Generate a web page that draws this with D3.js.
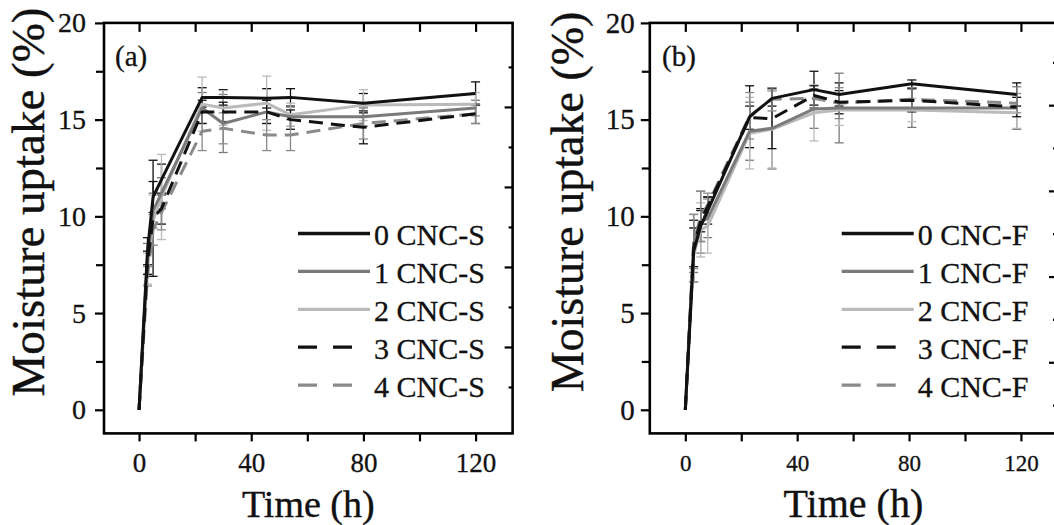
<!DOCTYPE html>
<html><head><meta charset="utf-8">
<script src="https://cdn.jsdelivr.net/npm/d3@7"></script>
<style>
body{margin:0;background:#fff}
svg{display:block;font-family:"Liberation Serif","Times New Roman",serif}
</style></head><body>
<svg id="chart" width="1054" height="525"></svg>
<script>
// Moisture uptake vs time, panels (a) CNC-S and (b) CNC-F

// panel (a)
const timeA = [0, 3, 5, 8, 22.5, 30, 45.5, 54, 80, 120];
const namesA = ["0 CNC-S", "1 CNC-S", "2 CNC-S", "3 CNC-S", "4 CNC-S"];
const uptakeA0 = [0, 8.2, 11.0, 11.9, 16.15, 16.15, 16.1, 16.15, 15.85, 16.35];
const uptakeA1 = [0, 7.8, 10.3, 11.2, 15.6, 14.8, 15.4, 15.15, 15.15, 15.6];
const uptakeA2 = [0, 7.3, 9.8, 11.0, 15.8, 15.6, 15.85, 15.25, 15.75, 15.8];
const uptakeA3 = [0, 7.6, 9.9, 10.4, 15.4, 15.4, 15.4, 15.0, 14.6, 15.3];
const uptakeA4 = [0, 6.9, 9.3, 10.2, 14.4, 14.55, 14.2, 14.2, 14.8, 15.3];
const errA0 = [0, 0.7, 0.8, 0.8, 0.5, 0.4, 0.5, 0.45, 0.5, 0.6];
const errA1 = [0, 0.8, 0.9, 0.8, 0.8, 1.5, 0.6, 0.5, 0.5, 0.4];
const errA2 = [0, 0.8, 1.3, 2.2, 1.4, 0.9, 1.4, 0.6, 0.8, 0.6];
const errA3 = [0, 0.6, 3.0, 0.8, 0.6, 0.5, 0.6, 0.5, 0.85, 0.5];
const errA4 = [0, 0.5, 0.8, 0.9, 1.0, 0.8, 0.8, 0.8, 0.8, 0.5];

// panel (b)
const timeB = [0, 3, 5.5, 8, 23, 31, 46, 55, 81, 118.5];
const namesB = ["0 CNC-F", "1 CNC-F", "2 CNC-F", "3 CNC-F", "4 CNC-F"];
const uptakeB0 = [0, 8.2, 9.5, 10.3, 15.15, 16.1, 16.55, 16.3, 16.85, 16.3];
const uptakeB1 = [0, 8.6, 9.7, 9.9, 14.4, 14.55, 15.55, 15.6, 15.6, 15.6];
const uptakeB2 = [0, 8.0, 9.3, 9.5, 14.3, 14.5, 15.35, 15.5, 15.5, 15.35];
const uptakeB3 = [0, 8.4, 9.8, 10.5, 15.1, 15.05, 16.25, 15.9, 16.0, 15.65];
const uptakeB4 = [0, 8.7, 10.0, 10.6, 15.2, 16.05, 16.1, 15.85, 16.05, 15.85];
const errB0 = [0, 1.6, 0.8, 0.7, 1.6, 0.4, 0.95, 0.6, 0.2, 0.6];
const errB1 = [0, 1.5, 1.6, 1.0, 1.5, 2.1, 1.0, 1.8, 1.0, 1.1];
const errB2 = [0, 1.4, 1.4, 1.4, 1.85, 2.0, 1.45, 0.8, 0.6, 0.8];
const errB3 = [0, 1.0, 0.6, 0.5, 0.6, 1.55, 0.5, 0.6, 0.6, 0.5];
const errB4 = [0, 1.4, 1.3, 0.6, 1.2, 0.6, 0.5, 0.8, 0.6, 0.5];

// ticks
const xMajor = [0, 40, 80, 120];
const xMinor = [20, 60, 100];
const yMajor = [0, 5, 10, 15, 20];
const yMinor = [2.5, 7.5, 12.5, 17.5];
const rMajor = [1, 2, 3, 4];
const rMinor = [0.5, 1.5, 2.5, 3.5, 4.5];

const colors = ["#111", "#7a7a7a", "#bababa", "#111", "#8a8a8a"];
const isDashed = [false, false, false, true, true];
const drawOrder = [2, 1, 4, 3, 0];

const svg = d3.select("#chart");
svg.append("rect").attr("width", 1054).attr("height", 525).attr("fill", "#fff");

function styleAxis(g, fs) {
  g.select(".domain").remove();
  g.selectAll(".tick line").attr("stroke", "#000").attr("stroke-width", 2.2);
  g.selectAll(".tick text").attr("fill", "#111").attr("font-size", fs)
    .attr("stroke", "#111").attr("stroke-width", 0.3)
    .attr("font-family", "Liberation Serif, Times New Roman, serif");
}

function drawPanel(p) {
  const x = d3.scaleLinear().domain(p.xDomain).range([p.left, p.right]);
  const y = d3.scaleLinear().domain([-1.22, 20]).range([p.bottom, p.top]);
  const yr = d3.scaleLinear().domain(p.rDomain).range([p.bottom, p.top]);
  const g = svg.append("g");

  // error bars
  p.values.forEach((vals, s) => {
    const eg = g.append("g").attr("stroke", colors[s]).attr("stroke-width", 1.3);
    vals.forEach((v, i) => {
      const e = p.errs[s][i];
      if (!e) return;
      const cx = x(p.times[i]);
      eg.append("line").attr("x1", cx).attr("x2", cx).attr("y1", y(v - e)).attr("y2", y(v + e));
      [v - e, v + e].forEach(b => {
        eg.append("line").attr("x1", cx - 4.5).attr("x2", cx + 4.5).attr("y1", y(b)).attr("y2", y(b));
      });
    });
  });

  // lines
  const line = d3.line().x((d, i) => x(p.times[i])).y(d => y(d));
  drawOrder.forEach(s => {
    g.append("path").datum(p.values[s])
      .attr("d", line)
      .attr("fill", "none")
      .attr("stroke", colors[s])
      .attr("stroke-width", 3)
      .attr("stroke-linejoin", "round")
      .attr("stroke-dasharray", isDashed[s] ? "14,8" : null);
  });

  // axes
  const bot = g.append("g").attr("transform", `translate(0,${p.bottom})`)
    .call(d3.axisBottom(x).tickValues(xMajor).tickSize(8).tickPadding(p.xPad).tickFormat(d3.format("d")));
  styleAxis(bot, p.xFont);
  const botMin = g.append("g").attr("transform", `translate(0,${p.bottom})`)
    .call(d3.axisBottom(x).tickValues(xMinor).tickSize(8).tickFormat(""));
  styleAxis(botMin, p.xFont);
  const topAx = g.append("g").attr("transform", `translate(0,${p.top})`)
    .call(d3.axisBottom(x).tickValues(xMajor.concat(xMinor)).tickSize(9).tickFormat(""));
  styleAxis(topAx, p.xFont);

  const lef = g.append("g").attr("transform", `translate(${p.left},0)`)
    .call(d3.axisLeft(y).tickValues(yMajor).tickSize(9).tickPadding(p.yPad).tickFormat(d3.format("d")));
  styleAxis(lef, p.yFont);
  const lefMin = g.append("g").attr("transform", `translate(${p.left},0)`)
    .call(d3.axisLeft(y).tickValues(yMinor).tickSize(8).tickFormat(""));
  styleAxis(lefMin, p.yFont);

  const rig = g.append("g").attr("transform", `translate(${p.right},0)`)
    .call(d3.axisLeft(yr).tickValues(rMajor).tickSize(8).tickFormat(""));
  styleAxis(rig, p.yFont);
  const rigMin = g.append("g").attr("transform", `translate(${p.right},0)`)
    .call(d3.axisLeft(yr).tickValues(rMinor).tickSize(4).tickFormat(""));
  styleAxis(rigMin, p.yFont);

  // frame
  g.append("rect")
    .attr("x", p.left).attr("y", p.top)
    .attr("width", p.right - p.left).attr("height", p.bottom - p.top)
    .attr("fill", "none").attr("stroke", "#000").attr("stroke-width", 2.6);

  // panel letter
  g.append("text").attr("x", p.labelX).attr("y", 66)
    .attr("font-size", 29).attr("fill", "#111")
    .attr("stroke", "#111").attr("stroke-width", 0.3).text(p.label);

  // axis titles
  g.append("text")
    .attr("transform", `translate(${p.yTitleX},202) rotate(-90)`)
    .attr("text-anchor", "middle").attr("font-size", p.yTitleFont).attr("fill", "#111")
    .attr("stroke", "#111").attr("stroke-width", 0.4)
    .text("Moisture uptake (%)");
  g.append("text")
    .attr("x", (p.left + p.right) / 2).attr("y", 517)
    .attr("text-anchor", "middle").attr("font-size", p.xTitleFont).attr("fill", "#111")
    .attr("stroke", "#111").attr("stroke-width", 0.4)
    .text("Time (h)");

  // legend
  p.names.forEach((name, s) => {
    const ly = p.legY + s * 37.9;
    g.append("line")
      .attr("x1", p.legX).attr("x2", isDashed[s] ? p.legX + 54 : p.legX + 72)
      .attr("y1", ly).attr("y2", ly)
      .attr("stroke", colors[s]).attr("stroke-width", 3.3)
      .attr("stroke-dasharray", isDashed[s] ? "19,16" : null);
    g.append("text").attr("x", p.legX + 76).attr("y", ly + 11.7)
      .attr("font-size", 30).attr("fill", "#111")
      .attr("stroke", "#111").attr("stroke-width", 0.3).text(name);
  });
}

drawPanel({
  left: 104, right: 512.6, top: 22.9, bottom: 433.4,
  xDomain: [-12.5, 133.2], rDomain: [-0.08, 5.05],
  times: timeA,
  values: [uptakeA0, uptakeA1, uptakeA2, uptakeA3, uptakeA4],
  errs: [errA0, errA1, errA2, errA3, errA4],
  names: namesA, label: "(a)", labelX: 115,
  xFont: 27, yFont: 28, xPad: 11.5, yPad: 9,
  yTitleX: 44, yTitleFont: 47, xTitleFont: 38,
  legX: 298, legY: 233.5
});

drawPanel({
  left: 649.8, right: 1057, top: 22.9, bottom: 433.4,
  xDomain: [-12.7, 132.9], rDomain: [0.17, 4.96],
  times: timeB,
  values: [uptakeB0, uptakeB1, uptakeB2, uptakeB3, uptakeB4],
  errs: [errB0, errB1, errB2, errB3, errB4],
  names: namesB, label: "(b)", labelX: 662,
  xFont: 23, yFont: 29, xPad: 13, yPad: 6,
  yTitleX: 582.5, yTitleFont: 46, xTitleFont: 40,
  legX: 841.7, legY: 233.5
});
</script>
</body></html>
